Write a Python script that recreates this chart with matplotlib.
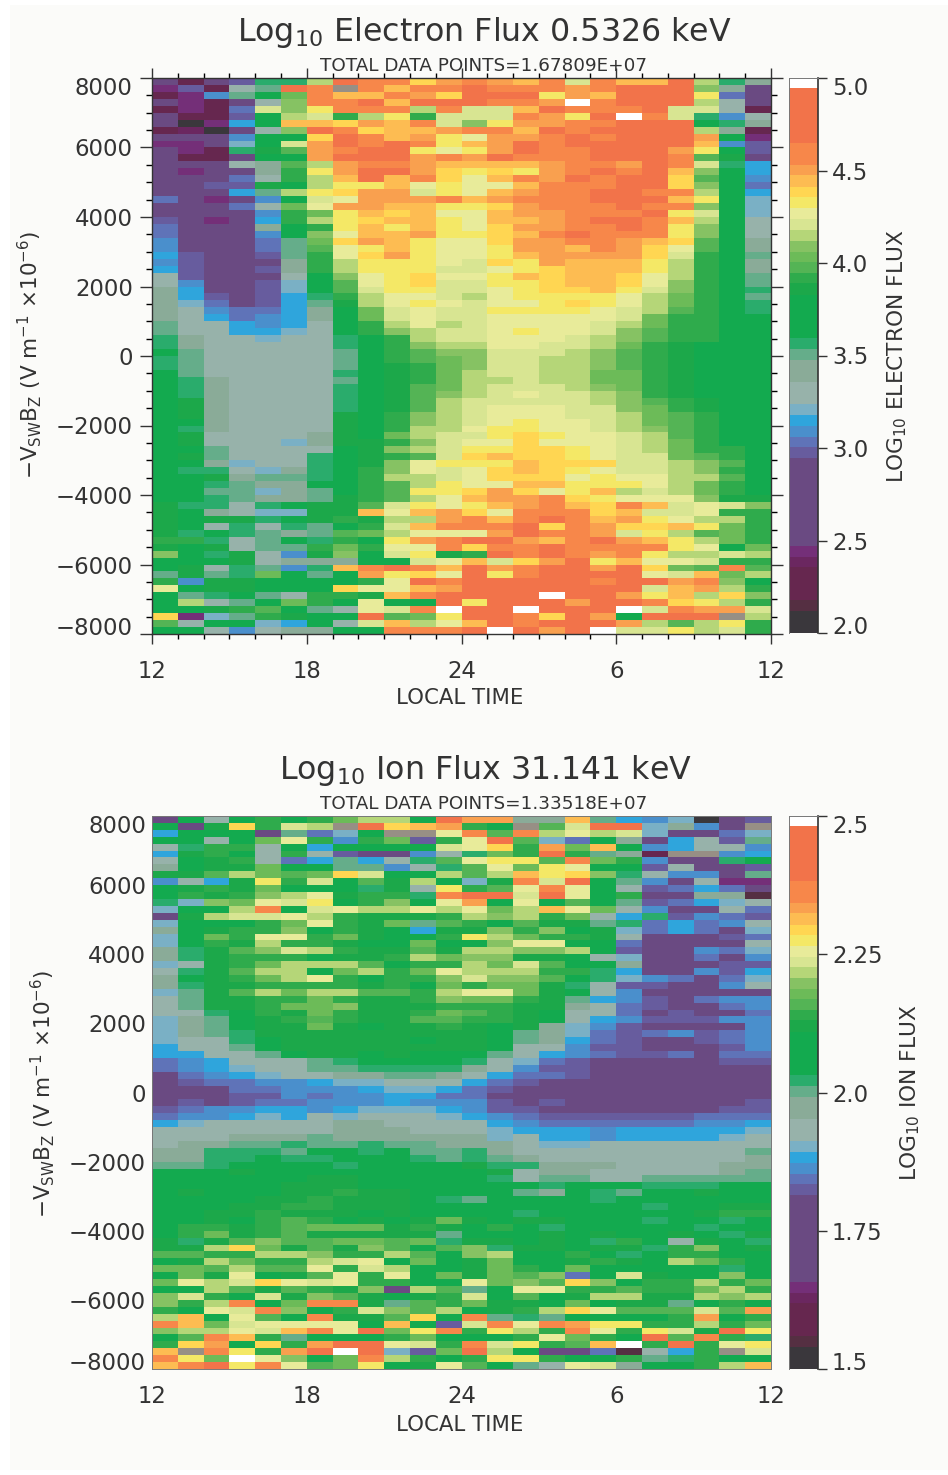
##################################
# Importing necessary modules

import numpy as np
import matplotlib
matplotlib.use('Agg')
import matplotlib.pyplot as plt
from matplotlib.colors import ListedColormap, BoundaryNorm
from matplotlib.patches import Rectangle
from matplotlib.transforms import ScaledTranslation

##################################
# Data
##################################

# Colour levels, lowest to highest, as on the colour bars
level_codes = list('KEDMPfedcbzxvutnmkjihgqplyAoORW')
level_colors = ['#3a373c', '#552f42', '#66274f', '#6b2760', '#742f78', '#6a4a82', '#675c9e',
                '#5f73b8', '#4a8fcc', '#2fa5dc', '#7ab0c5', '#97b2aa', '#8aab98', '#65ad8a',
                '#2aac6c', '#13aa4f', '#1ca84a', '#2fab4c', '#54b455', '#6cbb58', '#86c263',
                '#b5d678', '#d8e592', '#e8eb9a', '#f4e866', '#ffd652', '#fdbc52', '#f9a04f',
                '#f7874a', '#f2734a', '#ffffff']
# Level edges as a fraction of the colour bar range
level_edges = [0, .0396, .0595, .1189, .1369, .1568, .3153, .3351, .3532, .3730, .3928, .4126,
               .4523, .4919, .5117, .5315, .6090, .6306, .6486, .6685, .6865, .7063, .7261,
               .7459, .7658, .7856, .8036, .8252, .8432, .8829, .9820, 1]
no_data_color = '#978f85'

# Local time hours and -VswBz ticks
time_ticks = [0, 6, 12, 18, 24]
time_labels = ['12', '18', '24', '6', '12']
vb_ticks = [8000, 6000, 4000, 2000, 0, -2000, -4000, -6000, -8000]
vb_labels = ['8000', '6000', '4000', '2000', '0', '\u22122000', '\u22124000', '\u22126000', '\u22128000']

electron_range = [2.0, 5.0]
electron_ticks = [2.0, 2.5, 3.0, 3.5, 4.0, 4.5, 5.0]
ion_range = [1.5, 2.5]
ion_ticks = [1.5, 1.75, 2.0, 2.25, 2.5]

# One string per VswBz bin from +8000 down to -8000, one letter per local time bin
electron_rows = [
    'fDfettgROOyoOoAOqOAARgtv', 'PeDxuROGOAOOROOOoORRRhvf', 'DPcuniOAAOoyRRRloARRRldf',
    'fPDfxhOORARRROOoWORRRgxf', 'DPDdqhlOOOgOqqAROOORqqxD', 'fDDengqkglkqqqOolRWOqtcx',
    'fKPbnAAyoAOqhlooOORRRntv', 'DMKfxhROyAAoOOARORRRRgvD', 'fffcnnyROAolpooORORRRonP',
    'PPfznqoROROlAoRORRRRRAce', 'fPDtmjoORRlploROORRRolne', 'fDDfnnoRRRoOoROOORRROjmf',
    'fffxvjgoOOoAAAAoOOoROqtb', 'fPffvkloRRoylyloORORAhnb', 'fffdxkgARAOypAOoRORRyjnc',
    'ffeemngllAplppAOOORRyhnd', 'fffbuglyooqlpAoOORROOgnb', 'dfPfcnqpoooOAoOOORRRAlnz',
    'fffdxipooAAllyoOOOROOhnz', 'ffffckilAyAppAooOOORlqnz', 'efPfbkglyAAlpAAoORROAgnx',
    'dfffvnklAlAlpyooOOROlhnx', 'dfffcnhpAAollyAOROOOlhnx', 'cfffduiyoAlppyooOOoAyjnv',
    'cfffdujplAlpplooAOoypjnv', 'beffeukpyolpplAooooyqknu', 'cefffvkglllpqyloAAAlgknv',
    'beffevkglllqqplyAAAlgknv', 'xefffxnhplypplAyAAypgknu', 'xcffeznjplyqqllyAAyphknu',
    'vbffeznjqllqqplyyAlqhknt', 'vbefebtkgppqgpllllpgiknu', 'vzdfebumgplpqpplylpgiknt',
    'vxcddbvniqpqqllllpqgjknt', 'vxbdcbvniqpqqpppppqikknn', 'uxxbcbxnkgpgqppppqgikknn',
    'uxxbbzxnkhgqqplppqhjkknn', 'tvxxzxxtnkgqqpppqghjkknn', 'tvxxxxxtnkhggppqqgikmnnn',
    'nuxxxxxunkjhhqqqghjkmnnn', 'tuxxxxxunkjihqqgghjkmnnn', 'tuxxxxxunmkihqqgghjkmnnn',
    'nuxxxxxtnmkigqqggiikmnnn', 'ntvxxxxunmkiggqggiikmnnn', 'ntvxxxxtnmjigqqqghikmnnn',
    'ntvxxxxtnmjhgqpqqghkmnnn', 'nmvxxxxtnmjgqqqqqghjkmnn', 'nmvxxxxtnmjgqpppqqhikmnn',
    'nmvxxxxmnkhgqpppqqgijknn', 'nnvxxxxmnkhgqplppqgijknn', 'ntvxxxxmnkggpllppqghjknn',
    'nmxxxxvmnigqqlylppqgjknn', 'nmxxxzvmmkhqppypppqgiknn', 'nnuxxxxnmhgqllyylpqgikkn',
    'nmuxxxtnmkjqyAyylpqqijkn', 'nnvzxxtnmhplllAyyyqqghjn', 'nttxzvtnkhpqpyAylpqqghkn',
    'nnmvuutnkggqpyyyplppggjn', 'nntuvvnnkjglppAAlllpgikn', 'nnuuzvunkjllyoyplAgqgikn',
    'nntuvvumkjgpAooOylppphmm', 'mttxtnmmjqlplAoOAyOAqpqh', 'mnvxzzmmApAoypOOOyAqqpkk',
    'mnmmtnmkmggoOAOROAolpggk', 'mnxtxtunkqAOOORyOoyyAlik', 'mtntuvujigpppoROOoqlgjik',
    'kktxuntknloORRoAORoAlgik', 'mnmxuukikppOyOOROOOOlpni', 'hntmxcmhnqlmkROROoOlggqg',
    'nnnmxvvvnnqpAqyoRlAppqkk', 'nmxtuctAOROARoORRoRyijOj', 'umutinunolypRlORRRRpqAig',
    'kcmmnnnnkpRORRRRRORRoOhn', 'pnmmnnnyppAoRRRRRRRqAogk', 'nutnuxkkmAORRRRWRRolAgyh',
    'ngxuniknpnnRlRRRoRROylgk', 'nnmkjnuxpqOWRRWRRRWqOooq', 'yPzukmnnRjilRROyRonRRRGg',
    'jxnnzbnxqAgpARORRRogjglk', 'nnxcxvvnnOOORWRoRWqqlgqk',
]

ion_rows = [
    'fnxnknkiggnRoovvAubczKfe', 'nfmykqgGRyAoknGjqRRzvcfG', 'bnnnfudznGGpOjOgpgqzffdz',
    'nnxnipkckiekpRjzdnvfbxeu', 'xtkkxnbnnnnqpykoiAncbxxc', 'bmknxkxeffcxtikRkuvDGGcb',
    'xnmkxdbubxtjplljOikcfftn', 'vnmminnuucxtjpilpnnexffe', 'mmjgijiyqnngjgAlyhtxccfu',
    'cxbmlkqnjmgnzmOqRnucfxPP', 'nmkminnntmxlkjpOpnxedbdf', 'nkmkhgpmkktORRqRpnkffvvE',
    'tzhipqlnkhnponpnjnuedbzx', 'znngOnqpggpgpigApixcffxd', 'fmgqqpgkmmmkghgkixbtecde',
    'znnnkipkmiujknjmmutdbdcx', 'vnmkkhnkmnbmmhkhnmzdbdfz', 'znikppkimnnklgikkmxfffed',
    'znkmgkkmnninnhppnndffffx', 'vtmjhqgkmmjmgghhgneffcdz', 'vtmkkknmmkgihhmmnxzffdfc',
    'zxmkigggjnkkgiqjnnvfffee', 'xtmjggnigkipgggkktbffceb', 'vnmkigpknkkhqhhjntzcdfdz',
    'vtmmkkkkmknikiimtxeeffcx', 'zumjgiggjjkgppimnxcfffff', 'xummkkikmmkhiikmubcefdcc',
    'xummkiihmmmkkkmmvxdeffdc', 'xxtnkmikmmkijkmnxxdfeffd', 'zvunmkjkmmjjkkmnxbceeecc',
    'zvunmmimnmmkmnmvzceffffc', 'zvutmmmmmmmmmnuvzdedcedc', 'zxxtnmmmmmnmmnuvbdeffedc',
    'bxxunmmmmmmmmnxxceefffec', 'bbxxunmmnmnnnuxbcdeedfdd', 'dcbxxxutnnnntxzdefffffee',
    'dcbzxxuuttttvxceefffffff', 'fdcbzxxvvuuvxbddefffffff', 'feddccbzzxxxbdefffffffff',
    'fffddcccbzzbdeffffffffff', 'fffeecdccbbddfffffffffff', 'fefeddcccbcccefefffffffe',
    'edccbbcbzzzbceefffffffee', 'dccbzbxzxxxzbcdeeeeeeddd', 'bzxxxxxvvxxxxbcddddddccb',
    'xxxxxxxvvvxxxzbbbcbbbbbz', 'xxxvvvuvvvvvvzxbbcbbbbzx', 'xvvuutuutuuvvvxzzxxxxxxx',
    'vvtttunntnuutvxxxxxxxxxu', 'vvttnttnnntutuvxxxxxxxxv', 'uutnnnntnnnnmttvvvxxxxvv',
    'nnnmnnnnnnnnnmxvvxxxxxvu', 'nnnnnnmmnnnnntxuuxxuuuuu', 'nnnnnmmmnnnnnnntnnntttnn',
    'nmnnnmmkmmnnnnuvntunnmnn', 'nnnnmmkmmmntunnnntnnnnnn', 'nnnmmkkmmmnnnnnnnnntnnmm',
    'nnmmkmmmnmnnnntnnnnnnmkk', 'nnmnkjknmnmimnmmnnntnntn', 'nkkmkjiiimkmnkntnnnnntnn',
    'nkimkjmmmmmunnnmnmnnmntm', 'mtmjhjjiijitmmnmntknxmnt', 'mmgyimjmhjnjhtmmnmmtkhnm',
    'jjkkgghkkgjnhgnnkntnkknn', 'nmgikkgqpninminnmkmngikn', 'iijgjjpkqgnnmikninnnnntn',
    'nimpnmjpkpnimijhdnqmnnhn', 'ipgqypqpkknnpihjyhnkkgki', 'nngjmjkmhfgjunppkkjkkigk',
    'hqknqmhjmnmkqnjnmggmmghg', 'hkgOniOOmujkimmninmmunkn', 'knpqOhnkqhjgnmkgypjjjqjo',
    'gAnpjnOmmjynOutunnnnkonk', 'OAiqppppnAneqOpOollkkgki', 'hggpqAOpRilOklgkOpklqmRl',
    'njOAkunnnkinnnkpiknRjOkt', 'kyonykoRRpqkOqlkjAWkRkpl', 'AGOlkoRWRzeiRgnffdExbkGq',
    'OliWphniOgknkllknnkutknn', 'AORlOpjilnmpjnuxpqvnnkgA',
]

##################################
# Functions
##################################

W, H = 948, 1475
text_color = '#333333'
cmap = ListedColormap(level_colors)
cmap.set_under(no_data_color)


def ax_px(x0, y0, x1, y1):
    # axes from pixel corners measured from the top left
    return fig.add_axes([x0 / W, 1 - y1 / H, (x1 - x0) / W, (y1 - y0) / H])


def label_px(x, y, s, size, **kw):
    fig.text(x / W, 1 - y / H, s, fontsize=size, color=text_color,
             ha=kw.pop('ha', 'center'), va=kw.pop('va', 'center'), **kw)


def nudge(label, dy):
    # moving an end label inside the axis, dy in pixels upward
    label.set_transform(label.get_transform() + ScaledTranslation(0, dy / 100, fig.dpi_scale_trans))


def decode(rows, vrange):
    # turning letters into the middle value of their level
    edges = vrange[0] + np.array(level_edges) * (vrange[1] - vrange[0])
    mids = dict(zip(level_codes, (edges[:-1] + edges[1:]) / 2))
    mids['G'] = vrange[0] - 1
    bad = [i for i, r in enumerate(rows) if len(r) != 24]
    if bad or len(rows) != 80:
        raise ValueError('bad rows %s, count %d' % ([(i, len(rows[i])) for i in bad], len(rows)))
    return np.array([[mids[c] for c in r] for r in rows]), edges


def panel(rows, vrange, box, bar, ticks, ticklabels, ticked):
    z, edges = decode(rows, vrange)
    norm = BoundaryNorm(edges, cmap.N)
    ax = ax_px(*box)
    ax.pcolormesh(np.linspace(0, 24, 25), np.linspace(8000, -8000, 81), z, cmap=cmap, norm=norm)
    ax.set_xlim(0, 24)
    ax.set_ylim(-8000, 8000)
    ax.set_xticks(time_ticks, time_labels)
    ax.set_yticks(vb_ticks, vb_labels)
    ax.tick_params(labelsize=16.4, labelcolor=text_color, color=text_color)
    if ticked:
        ax.set_xticks(np.arange(25), minor=True)
        ax.set_yticks(np.arange(-8000, 8001, 500), minor=True)
        ax.tick_params(axis='x', which='major', length=7.2, width=1, top=True, pad=11.5)
        ax.tick_params(axis='x', which='minor', length=3.6, width=1, top=True)
        ax.tick_params(axis='y', which='major', length=8.8, width=1, right=True, pad=5)
        ax.tick_params(axis='y', which='minor', length=4.4, width=1, right=True)
        for s in ax.spines.values():
            s.set_color(text_color)
            s.set_linewidth(1.0)
    else:
        ax.tick_params(axis='x', length=0, pad=11.5)
        ax.tick_params(axis='y', length=0, pad=4.3)
        for s in ax.spines.values():
            s.set_color('#777777')
            s.set_linewidth(0.7)
    ylab = ax.get_yticklabels()
    nudge(ylab[0], -8)
    nudge(ylab[-1], 8)

    # Colour bar
    cax = ax_px(*bar)
    cax.pcolormesh([0, 1], edges, np.array(edges[:-1] + np.diff(edges) / 2)[:, None], cmap=cmap, norm=norm)
    cax.set_xticks([])
    cax.yaxis.tick_right()
    cax.set_ylim(vrange)
    cax.set_yticks(ticks, ticklabels)
    cax.tick_params(axis='y', labelsize=16.4, labelcolor=text_color, color=text_color,
                    length=6.5, width=1, pad=3.5)
    nudge(cax.get_yticklabels()[0], 8)
    nudge(cax.get_yticklabels()[-1], -8)
    cax.spines['left'].set_color('#777777')
    cax.spines['left'].set_linewidth(0.7)
    cax.spines['top'].set_color('#777777')
    cax.spines['top'].set_linewidth(0.7)
    cax.spines['bottom'].set_visible(False)
    cax.spines['right'].set_color(text_color)
    cax.spines['right'].set_linewidth(1.2)


##################################
# Main Plot
##################################

plt.rcParams['mathtext.default'] = 'regular'
plt.rcParams['font.family'] = ['DejaVu Sans']

fig = plt.figure(figsize=(W / 100, H / 100), dpi=100, facecolor='white')
fig.add_artist(Rectangle((10 / W, 1 - 1470 / H), (W - 10) / W, 1465 / H, zorder=-1,
                         transform=fig.transFigure, facecolor='#fbfbf9', edgecolor='none'))

panel(electron_rows, electron_range, (152, 78, 771, 634), (789, 78, 818, 633), electron_ticks,
      ['2.0', '2.5', '3.0', '3.5', '4.0', '4.5', '5.0'], True)
panel(ion_rows, ion_range, (152, 816, 771, 1369), (789, 816, 818, 1369), ion_ticks,
      ['1.5', '1.75', '2.0', '2.25', '2.5'], False)

# Labelling
label_px(484, 33, 'Log$_{10}$ Electron Flux 0.5326 keV', 22.8)
label_px(484, 66, 'TOTAL DATA POINTS=1.67809E+07', 13.2)
label_px(460, 698, 'LOCAL TIME', 15.3)
label_px(30, 355, r'$-V_{SW}B_Z$ (V m$^{-1}$ $\times$10$^{-6}$)', 15.5, rotation=90)
label_px(897, 356, 'LOG$_{10}$ ELECTRON FLUX', 15.7, rotation=90)

label_px(485, 771, 'Log$_{10}$ Ion Flux 31.141 keV', 22.8)
label_px(484, 804, 'TOTAL DATA POINTS=1.33518E+07', 13.2)
label_px(460, 1425, 'LOCAL TIME', 15.3)
label_px(43, 1094, r'$-V_{SW}B_Z$ (V m$^{-1}$ $\times$10$^{-6}$)', 15.5, rotation=90)
label_px(910, 1093, 'LOG$_{10}$ ION FLUX', 15.7, rotation=90)

plt.savefig('out.png', dpi=100)

# End of program
##################################
